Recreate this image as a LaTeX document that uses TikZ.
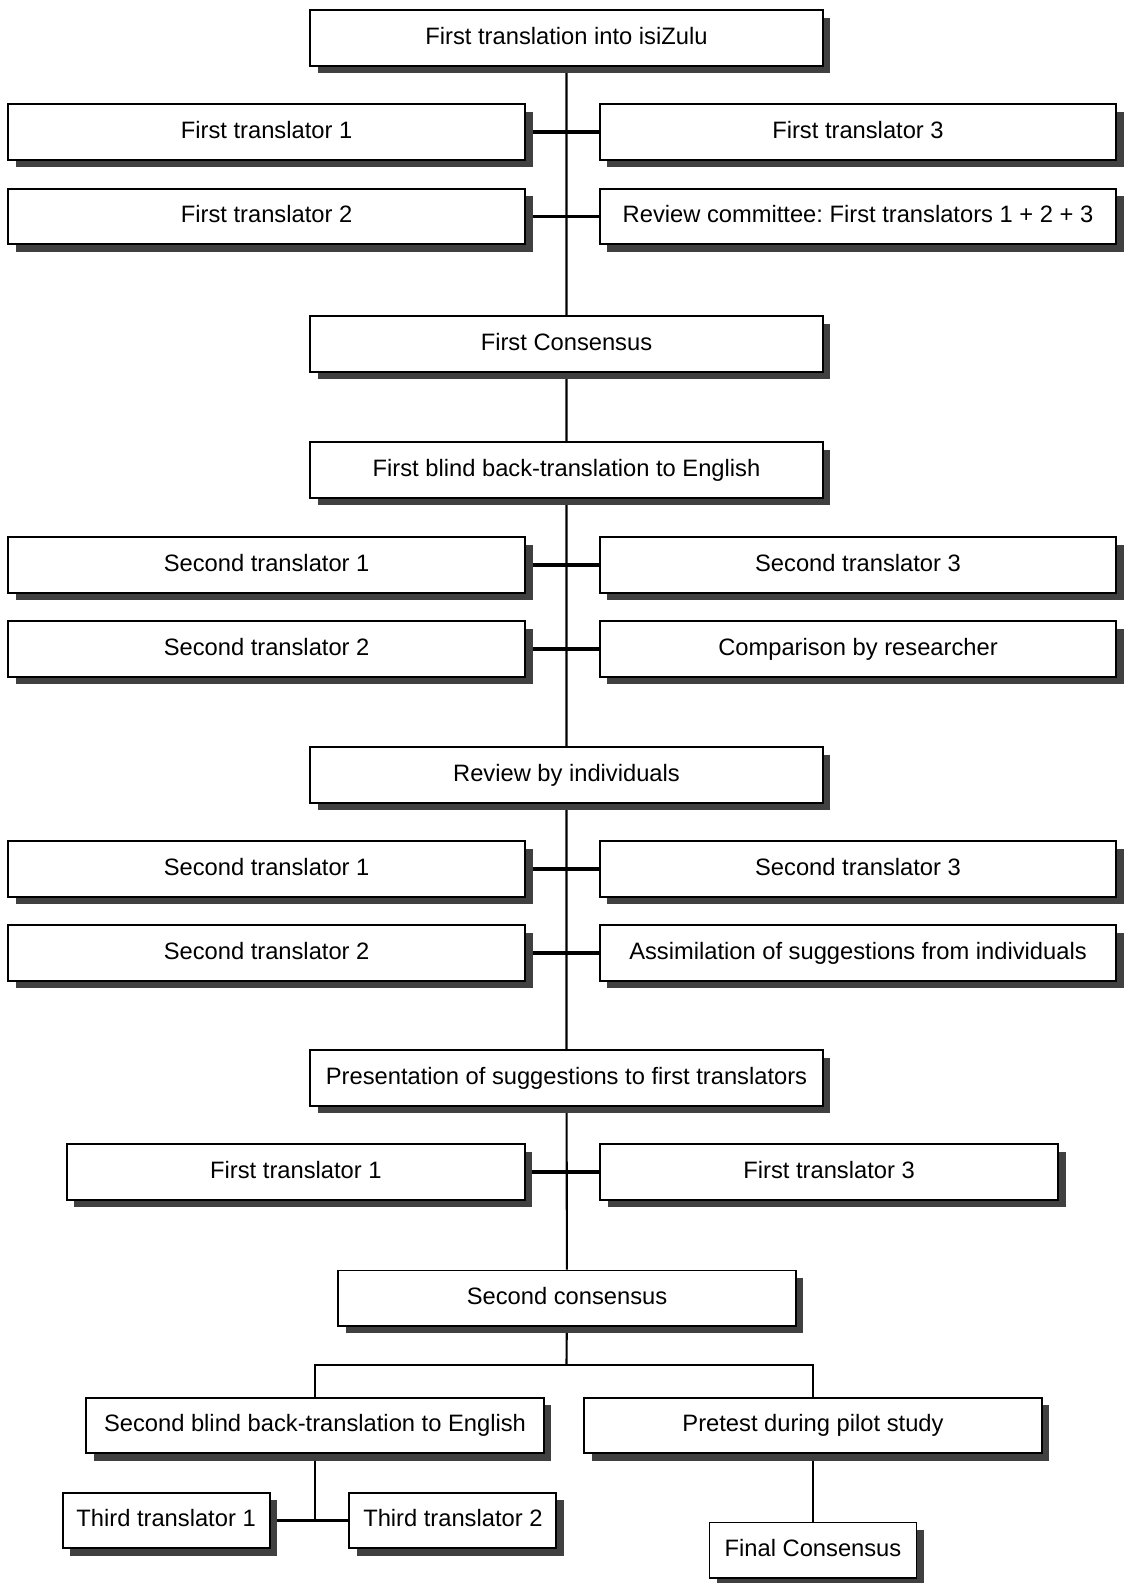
\documentclass[tikz,border=0pt]{standalone}
\usepackage{fontspec}
\setmainfont{Liberation Sans}
\usetikzlibrary{shadows, backgrounds, positioning}
\frenchspacing

\begin{document}
\begin{tikzpicture}[
    x=0.02cm, y=-0.02cm,
    font=\fontsize{13.5}{16}\selectfont,
    stagebox/.style={draw, line width=1.1pt, fill=white, rectangle, inner sep=0pt,
                     minimum height=1.11cm, text height=0.72em, text depth=0pt,
                     drop shadow={shadow xshift=0.15cm, shadow yshift=-0.15cm,
                                  fill=black!75, opacity=1}},
    mainbox/.style={stagebox, minimum width=10.26cm},
    widebox/.style={stagebox, minimum width=10.34cm},
    midbox/.style={stagebox, minimum width=9.16cm},
    smallbox/.style={stagebox, minimum width=4.14cm},
    spine/.style={line width=1.2pt},
    branch/.style={line width=2pt},
]
\useasboundingbox (0,0) rectangle (1127,1583);

% ============================================================
% FIRST TRANSLATION
% ============================================================
\node[mainbox] (zulu) at (566.5, 38) {First translation into isiZulu};

\node[widebox] (ft1) at (266.6, 131.8) {First translator 1};
\node[widebox] (ft3) at (858, 131.8) {First translator 3};
\node[widebox] (ft2) at (266.6, 216.6) {First translator 2};
\node[widebox] (review) at (858, 216.6)
    {Review committee: First translators 1 + 2 + 3};

\node[mainbox] (cons1) at (566.5, 343.9) {First Consensus};

% ============================================================
% FIRST BACK-TRANSLATION
% ============================================================
\node[mainbox] (back1) at (566.5, 470.1) {First blind back-translation to English};

\node[widebox] (st1a) at (266.6, 565) {Second translator 1};
\node[widebox] (st3a) at (858, 565) {Second translator 3};
\node[widebox] (st2a) at (266.6, 648.9) {Second translator 2};
\node[widebox] (compare) at (858, 648.9) {Comparison by researcher};

% ============================================================
% REVIEW BY INDIVIDUALS
% ============================================================
\node[mainbox] (indiv) at (566.5, 775.1) {Review by individuals};

\node[widebox] (st1b) at (266.6, 869) {Second translator 1};
\node[widebox] (st3b) at (858, 869) {Second translator 3};
\node[widebox] (st2b) at (266.6, 952.8) {Second translator 2};
\node[widebox] (assim) at (858, 952.8)
    {Assimilation of suggestions from individuals};

\node[mainbox] (present) at (566.5, 1078)
    {Presentation of suggestions to first translators};

\node[midbox] (ft1b) at (295.9, 1172) {First translator 1};
\node[midbox] (ft3b) at (829.1, 1172) {First translator 3};

\node[midbox] (cons2) at (567, 1298.2) {Second consensus};

% ============================================================
% SECOND BACK-TRANSLATION AND PRETEST
% ============================================================
\node[midbox] (back2) at (315, 1425.5) {Second blind back-translation to English};
\node[midbox] (pilot) at (813, 1425.5) {Pretest during pilot study};

\node[smallbox] (tt1) at (166.1, 1520.4) {Third translator 1};
\node[smallbox] (tt2) at (452.9, 1520.4) {Third translator 2};
\node[smallbox] (final) at (813, 1550.2) {Final Consensus};

\coordinate (fork) at (566.5, 1365.4);

% ============================================================
% CONNECTORS (behind the boxes)
% ============================================================
\begin{pgfonlayer}{background}
\draw[spine] (zulu) -- (cons1) -- (back1) -- (indiv) -- (present) -- (cons2);

\draw[branch] (ft1.east) -- (ft3.west);
\draw[branch] (ft2.east) -- (review.west);
\draw[branch] (st1a.east) -- (st3a.west);
\draw[branch] (st2a.east) -- (compare.west);
\draw[branch] (st1b.east) -- (st3b.west);
\draw[branch] (st2b.east) -- (assim.west);
\draw[branch] (ft1b.east) -- (ft3b.west);

\draw[spine] (cons2) -- (fork);
\draw[spine] (back2.north) |- (fork) -| (pilot.north);
\draw[spine] (back2.south) -- (back2.south |- tt1.east);
\draw[branch] (tt1.east) -- (tt2.west);
\draw[spine] (pilot.south) -- (final.north);
\end{pgfonlayer}

\end{tikzpicture}
\end{document}
